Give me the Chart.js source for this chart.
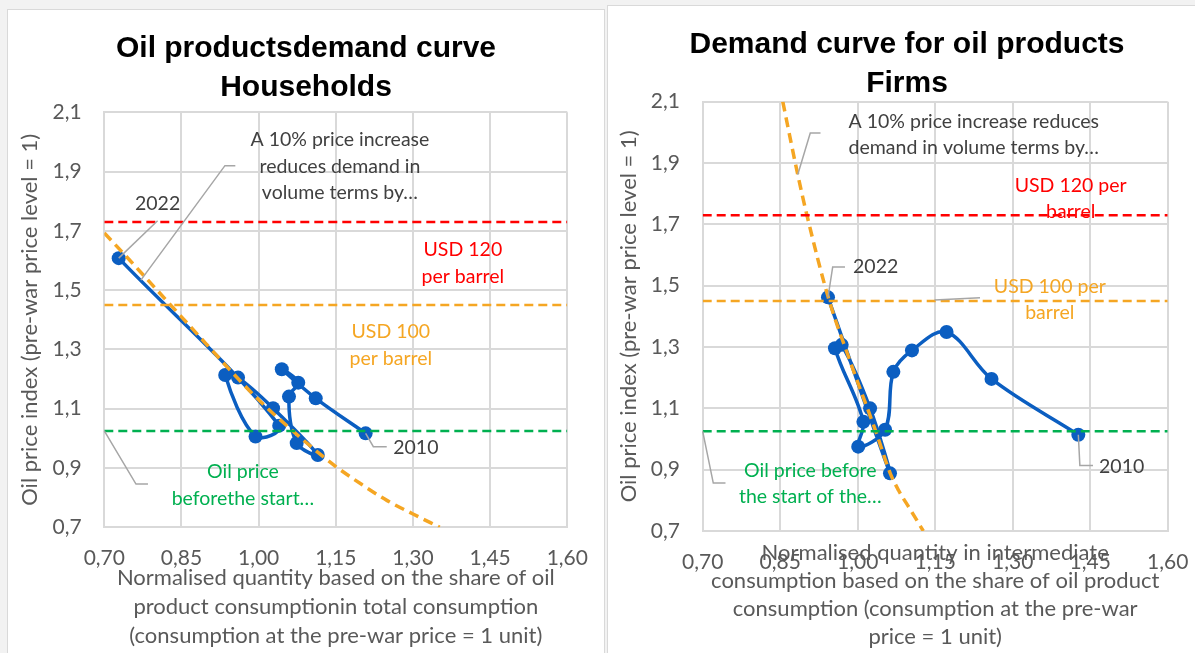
<!DOCTYPE html>
<html>
<head>
<meta charset="utf-8">
<title>Oil products demand curves</title>
<script src="https://cdn.jsdelivr.net/npm/chart.js@4.4.1/dist/chart.umd.min.js"></script>
<style>
  html, body { margin: 0; padding: 0; }
  body { width: 1195px; height: 653px; overflow: hidden; position: relative; background: #f2f2f2; }
  .panel { position: absolute; background: #ffffff; border: 1px solid #d9d9d9; box-sizing: border-box; }
  #panelHouseholds { left: 7px; top: 9px; width: 598px; height: 660px; }
  #panelFirms { left: 607px; top: 5px; width: 600px; height: 660px; }
  canvas { position: absolute; }
  #householdsChart { left: 8px; top: 10px; }
  #firmsChart { left: 608px; top: 6px; }
</style>
</head>
<body>
<div class="panel" id="panelHouseholds"></div>
<div class="panel" id="panelFirms"></div>
<canvas id="householdsChart" width="596" height="643"></canvas>
<canvas id="firmsChart" width="598" height="647"></canvas>
<script>
// Axis tick labels (comma as decimal separator)
const quantityTicks = ['0,70', '0,85', '1,00', '1,15', '1,30', '1,45', '1,60'];
const priceTicks = ['0,7', '0,9', '1,1', '1,3', '1,5', '1,7', '1,9', '2,1'];

// Reference oil price levels (index, pre-war price level = 1)
const usd120Level = 1.73;
const usd100Level = 1.45;
const preWarLevel = 1.025;

// Households: yearly observations, 2010 -> 2022
const householdYears = ['2010', '2011', '2012', '2013', '2014', '2015', '2016', '2017', '2018', '2019', '2020', '2021', '2022'];
const householdQuantity = [1.208, 1.111, 1.045, 1.077, 1.059, 1.074, 1.115, 1.028, 0.960, 0.935, 0.994, 1.040, 0.728];
const householdPrice    = [1.017, 1.135, 1.233, 1.188, 1.141, 0.984, 0.944, 1.102, 1.205, 1.214, 1.006, 1.043, 1.608];

// Households: estimated demand curve
const householdCurveQuantity = [0.70, 0.75, 0.80, 0.85, 0.90, 0.95, 1.00, 1.05, 1.10, 1.15, 1.20, 1.25, 1.30, 1.352];
const householdCurvePrice    = [1.693, 1.60, 1.505, 1.41, 1.315, 1.22, 1.13, 1.05, 0.975, 0.905, 0.845, 0.79, 0.745, 0.70];

// Firms: yearly observations, 2010 -> 2022
const firmYears = ['2010', '2011', '2012', '2013', '2014', '2015', '2016', '2017', '2018', '2019', '2020', '2021', '2022'];
const firmQuantity = [1.427, 1.259, 1.172, 1.105, 1.069, 1.053, 1.001, 1.011, 0.956, 0.969, 1.024, 1.0625, 0.9425];
const firmPrice    = [1.014, 1.196, 1.349, 1.289, 1.219, 1.030, 0.975, 1.056, 1.296, 1.307, 1.100, 0.888, 1.462];

// Firms: estimated demand curve
const firmCurveQuantity = [0.855, 0.884, 0.902, 0.943, 0.985, 1.035, 1.063, 1.079, 1.100, 1.127];
const firmCurvePrice    = [2.10, 1.862, 1.728, 1.462, 1.255, 1.025, 0.888, 0.833, 0.775, 0.70];

const BLUE = '#0b5ec1';
const ORANGE = '#f5a623';
const RED = '#ff0000';
const GREEN = '#00b050';
const LABEL = '#404040';
const AXIS_TEXT = '#595959';
const GRID = '#d9d9d9';

Chart.defaults.font.family = 'Lato, "Open Sans", sans-serif';
Chart.defaults.color = AXIS_TEXT;

const tickValue = (t) => parseFloat(t.replace(',', '.'));
const quantityTickValues = quantityTicks.map(tickValue);
const priceTickValues = priceTicks.map(tickValue);
const qMin = quantityTickValues[0], qMax = quantityTickValues[quantityTickValues.length - 1];
const pMin = priceTickValues[0], pMax = priceTickValues[priceTickValues.length - 1];

const toPoints = (xs, ys) => xs.map((x, i) => ({ x: x, y: ys[i] }));
const levelLine = (level) => [{ x: qMin, y: level }, { x: qMax, y: level }];

// Text callouts with grey leader lines, anchored in data coordinates
const calloutPlugin = {
  id: 'callouts',
  afterDatasetsDraw(chart, args, opts) {
    const { ctx } = chart;
    const xs = chart.scales.x, ys = chart.scales.y;
    ctx.save();
    for (const c of opts.items || []) {
      if (c.leader) {
        ctx.strokeStyle = '#a6a6a6';
        ctx.lineWidth = 1.5;
        ctx.setLineDash([]);
        ctx.beginPath();
        c.leader.forEach(([qx, py], i) => {
          const X = xs.getPixelForValue(qx), Y = ys.getPixelForValue(py);
          if (i === 0) ctx.moveTo(X, Y); else ctx.lineTo(X, Y);
        });
        ctx.stroke();
      }
      ctx.font = (opts.fontSize || 19) + 'px Lato, "Open Sans", sans-serif';
      ctx.fillStyle = c.color;
      ctx.textAlign = 'center';
      ctx.textBaseline = 'middle';
      const X = xs.getPixelForValue(c.at[0]);
      const Y = ys.getPixelForValue(c.at[1]);
      c.lines.forEach((t, i) => ctx.fillText(t, X, Y + i * opts.lineGap));
    }
    ctx.restore();
  }
};

function demandChart(canvasId, s) {
  return new Chart(document.getElementById(canvasId), {
    type: 'scatter',
    plugins: [calloutPlugin],
    data: {
      datasets: [
        { label: 'USD 120 per barrel', data: levelLine(usd120Level), showLine: true, borderColor: RED,
          borderWidth: 2.5, borderDash: [9, 5], pointRadius: 0, order: 1 },
        { label: 'USD 100 per barrel', data: levelLine(usd100Level), showLine: true, borderColor: ORANGE,
          borderWidth: 2.5, borderDash: [9, 5], pointRadius: 0, order: 1 },
        { label: 'Oil price before the start of the war', data: levelLine(preWarLevel), showLine: true, borderColor: GREEN,
          borderWidth: 2.5, borderDash: [9, 5], pointRadius: 0, order: 1 },
        { label: 'Demand curve', data: toPoints(s.curveQ, s.curveP), showLine: true, borderColor: ORANGE,
          borderWidth: 3.5, borderDash: [10, 6], pointRadius: 0, cubicInterpolationMode: 'monotone', order: 2 },
        { label: s.seriesLabel, data: toPoints(s.q, s.p), showLine: true, borderColor: BLUE, backgroundColor: BLUE,
          borderWidth: 3.5, tension: 0.35, pointRadius: 7, pointBackgroundColor: BLUE, pointBorderColor: BLUE,
          pointBorderWidth: 0, order: 3 }
      ]
    },
    options: {
      responsive: false,
      animation: false,
      events: [],
      layout: { padding: 0 },
      scales: {
        x: {
          type: 'linear', min: qMin, max: qMax,
          afterBuildTicks: (sc) => { sc.ticks = quantityTickValues.map(v => ({ value: v })); },
          afterFit: (sc) => { sc.height = s.xAxisHeight; sc.paddingRight = s.rightGap; },
          ticks: { callback: (v, i) => quantityTicks[i], padding: s.xTickPad, color: AXIS_TEXT,
                   font: { size: 21 }, maxRotation: 0, autoSkip: false },
          grid: { color: GRID, lineWidth: 2, drawTicks: false },
          border: { color: GRID, width: 2 },
          title: { display: true, text: s.xTitle, color: AXIS_TEXT,
                   font: { size: 22, lineHeight: s.xTitleLineHeight }, padding: { top: 0, bottom: s.xTitlePadBottom } }
        },
        y: {
          type: 'linear', min: pMin, max: pMax,
          afterBuildTicks: (sc) => { sc.ticks = priceTickValues.map(v => ({ value: v })); },
          afterFit: (sc) => { sc.width = s.yAxisWidth; },
          ticks: { callback: (v, i) => priceTicks[i], padding: s.yTickPad, color: AXIS_TEXT,
                   font: { size: 21 }, autoSkip: false },
          grid: { color: GRID, lineWidth: 2, drawTicks: false },
          border: { color: GRID, width: 2 },
          title: { display: true, text: 'Oil price index (pre-war price level = 1)', color: AXIS_TEXT,
                   font: { size: 22, lineHeight: 1.2 }, padding: { top: s.yTitlePadTop, bottom: 0 } }
        }
      },
      plugins: {
        legend: { display: false },
        tooltip: { enabled: false },
        title: {
          display: true, text: s.title, color: '#000000',
          font: { family: '"Liberation Sans", Arial, sans-serif', weight: 'bold', size: 30, lineHeight: 1.3 },
          padding: { top: s.titlePadTop, bottom: s.titlePadBottom }
        },
        callouts: { items: s.callouts, lineGap: s.calloutGap, fontSize: 19.5 }
      }
    }
  });
}

demandChart('householdsChart', {
  title: ['Oil productsdemand curve', 'Households'],
  seriesLabel: 'Households',
  q: householdQuantity, p: householdPrice,
  curveQ: householdCurveQuantity, curveP: householdCurvePrice,
  xTitle: ['Normalised quantity based on the share of oil',
           'product consumptionin total consumption',
           '(consumption at the pre-war price = 1 unit)'],
  xTitleLineHeight: 1.318, xTitlePadBottom: 2.5,
  xAxisHeight: 125.7, rightGap: 36.7, yAxisWidth: 96.3,
  xTickPad: 18.1, yTickPad: 22.6, yTitlePadTop: 8.8,
  titlePadTop: 19.4, titlePadBottom: 4.9,
  calloutGap: 26.5,
  callouts: [
    { lines: ['2022'], at: [0.8036, 1.791], color: LABEL,
      leader: [[householdQuantity[12], householdPrice[12]], [0.8036, 1.734]] },
    { lines: ['A 10% price increase', 'reduces demand in', 'volume terms by…'], at: [1.158, 2.006], color: LABEL,
      leader: [[0.9547, 1.920], [0.9345, 1.920], [0.7711, 1.534]] },
    { lines: ['USD 120', 'per barrel'], at: [1.397, 1.636], color: RED },
    { lines: ['USD 100', 'per barrel'], at: [1.257, 1.359], color: ORANGE },
    { lines: ['Oil price', 'beforethe start…'], at: [0.9695, 0.887], color: GREEN,
      leader: [[qMin, preWarLevel], [0.7616, 0.846], [0.7849, 0.846]] },
    { lines: ['2010'], at: [1.3056, 0.968], color: LABEL,
      leader: [[householdQuantity[0], householdPrice[0]], [1.223, 0.972], [1.249, 0.972]] }
  ]
});

demandChart('firmsChart', {
  title: ['Demand curve for oil products', 'Firms'],
  seriesLabel: 'Firms',
  q: firmQuantity, p: firmPrice,
  curveQ: firmCurveQuantity, curveP: firmCurvePrice,
  xTitle: ['Normalised quantity in intermediate',
           'consumption based on the share of oil product',
           'consumption (consumption at the pre-war',
           'price = 1 unit)'],
  xTitleLineHeight: 1.273, xTitlePadBottom: 2,
  xAxisHeight: 122, rightGap: 38.3, yAxisWidth: 94.7,
  xTickPad: 19.1, yTickPad: 22.7, yTitlePadTop: 7.3,
  titlePadTop: 19.2, titlePadBottom: -1.5,
  calloutGap: 26,
  callouts: [
    { lines: ['A 10% price increase reduces', 'demand in volume terms by…'], at: [1.2247, 2.0357], color: LABEL,
      leader: [[0.928, 1.998], [0.9082, 1.998], [0.8839, 1.862]] },
    { lines: ['USD 120 per', 'barrel'], at: [1.4122, 1.8257], color: RED },
    { lines: ['2022'], at: [1.0348, 1.5615], color: LABEL,
      leader: [[firmQuantity[12], firmPrice[12]], [0.9516, 1.561], [0.9754, 1.561]] },
    { lines: ['USD 100 per', 'barrel'], at: [1.3718, 1.4976], color: ORANGE,
      leader: [[1.1488, 1.4532], [1.2367, 1.461]] },
    { lines: ['Oil price before', 'the start of the…'], at: [0.9083, 0.8955], color: GREEN,
      leader: [[qMin, preWarLevel], [0.7205, 0.8564], [0.7441, 0.8564]] },
    { lines: ['2010'], at: [1.5109, 0.9085], color: LABEL,
      leader: [[firmQuantity[0], firmPrice[0]], [1.430, 0.9134], [1.4554, 0.9134]] }
  ]
});
</script>
</body>
</html>
